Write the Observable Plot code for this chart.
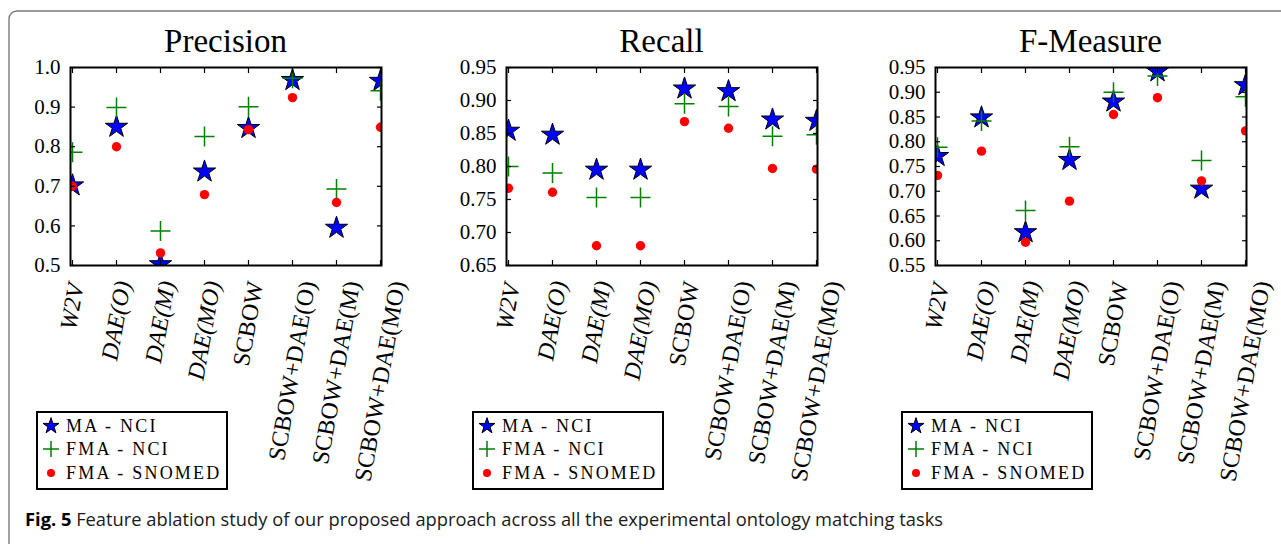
<!DOCTYPE html>
<html><head><meta charset="utf-8">
<script src="https://cdn.jsdelivr.net/npm/d3@7"></script>
<script src="https://cdn.jsdelivr.net/npm/@observablehq/plot@0.6"></script>
<style>
body{margin:0;background:#fff;}
#page{position:relative;width:1281px;height:544px;overflow:hidden;background:#fff;}
.panel{position:absolute;}
#overlay{position:absolute;left:0;top:0;}
</style></head><body><div id="page"></div>
<script>
// ---------- data ----------
const categories = ["W2V","DAE(O)","DAE(M)","DAE(MO)","SCBOW","SCBOW+DAE(O)","SCBOW+DAE(M)","SCBOW+DAE(MO)"];
const italicLabels = ["W2V","DAE(O)","DAE(M)","DAE(MO)"];
const seriesNames = ["MA - NCI","FMA - NCI","FMA - SNOMED"];
const panelTitles = ["Precision","Recall","F-Measure"];

const precisionMA     = [0.702, 0.850, 0.503, 0.737, 0.847, 0.968, 0.595, 0.966];
const precisionFMA    = [0.786, 0.899, 0.587, 0.826, 0.901, 0.973, 0.693, 0.941];
const precisionSNOMED = [0.700, 0.800, 0.532, 0.679, 0.843, 0.924, 0.659, 0.849];

const recallMA     = [0.854, 0.848, 0.795, 0.795, 0.918, 0.914, 0.871, 0.869];
const recallFMA    = [0.800, 0.790, 0.753, 0.753, 0.895, 0.891, 0.846, 0.848];
const recallSNOMED = [0.767, 0.761, 0.680, 0.680, 0.868, 0.858, 0.797, 0.796];

const fmeasureMA     = [0.771, 0.849, 0.617, 0.763, 0.881, 0.942, 0.705, 0.914];
const fmeasureFMA    = [0.789, 0.842, 0.661, 0.790, 0.900, 0.933, 0.762, 0.891];
const fmeasureSNOMED = [0.732, 0.781, 0.597, 0.680, 0.855, 0.889, 0.721, 0.822];

const precisionTicks = [0.5, 0.6, 0.7, 0.8, 0.9, 1.0];
const recallTicks    = [0.65, 0.70, 0.75, 0.80, 0.85, 0.90, 0.95];
const fmeasureTicks  = [0.55, 0.60, 0.65, 0.70, 0.75, 0.80, 0.85, 0.90, 0.95];

const captionBold = "Fig. 5";
const captionText = " Feature ablation study of our proposed approach across all the experimental ontology matching tasks";

// ---------- layout ----------
const W = 311, H = 198, mL = 60, mR = 15, mT = 10, mB = 240;
const frameTop = 67;
const panels = [
  {title: panelTitles[0], left: 70,  ma: precisionMA, fma: precisionFMA, sn: precisionSNOMED, ticks: precisionTicks, fmt: ".1f"},
  {title: panelTitles[1], left: 506, ma: recallMA,    fma: recallFMA,    sn: recallSNOMED,    ticks: recallTicks,    fmt: ".2f"},
  {title: panelTitles[2], left: 935, ma: fmeasureMA,  fma: fmeasureFMA,  sn: fmeasureSNOMED,  ticks: fmeasureTicks,  fmt: ".2f"}
];
const serif = "Liberation Serif";
const blue = "#0000ff", green = "#008000", red = "#ff0000";

const plusSymbol = {draw(ctx, size){ const r = Math.sqrt(size/Math.PI); ctx.moveTo(-r,0); ctx.lineTo(r,0); ctx.moveTo(0,-r); ctx.lineTo(0,r); }};
const rows = vals => categories.map((c,i) => ({cat: c, v: vals[i]}));

const page = document.getElementById("page");
const overlay = d3.select(page).append("svg").attr("id","overlay").attr("width",1281).attr("height",544);
overlay.append("rect").attr("x",9).attr("y",11).attr("width",1400).attr("height",700).attr("rx",8)
  .attr("fill","none").attr("stroke","#7a7a7a").attr("stroke-width",1.4);

panels.forEach(p => {
  const div = document.createElement("div");
  div.className = "panel";
  div.style.left = (p.left - mL) + "px";
  div.style.top = (frameTop - mT) + "px";
  div.style.width = (mL + W + mR) + "px";
  page.appendChild(div);

  const chart = Plot.plot({
    width: mL + W + mR, height: mT + H + mB,
    marginLeft: mL, marginRight: mR, marginTop: mT, marginBottom: mB,
    style: {fontFamily: serif, fontSize: "21px", color: "black", background: "transparent", overflow: "visible"},
    x: {type: "point", domain: categories, padding: 0, label: null},
    y: {domain: [p.ticks[0], p.ticks[p.ticks.length-1]], label: null},
    marks: [
      Plot.dot(rows(p.ma),  {x: "cat", y: "v", symbol: "star", r: 7, fill: blue, stroke: "black", strokeWidth: 1, clip: true}),
      Plot.dot(rows(p.fma), {x: "cat", y: "v", symbol: plusSymbol, r: 10, fill: "none", stroke: green, strokeWidth: 1.5, clip: true}),
      Plot.dot(rows(p.sn),  {x: "cat", y: "v", r: 4.7, fill: red, stroke: "none", clip: true}),
      Plot.axisY({anchor: "left", ticks: p.ticks, tickSize: 0, tickPadding: 10, tickFormat: d3.format(p.fmt), fontSize: 21, fontFamily: serif, label: null}),
      Plot.axisY({anchor: "left", ticks: p.ticks, tickSize: -5, tickFormat: () => "", label: null, strokeWidth: 1.2}),
      Plot.axisY({anchor: "right", ticks: p.ticks, tickSize: -5, tickFormat: () => "", label: null, strokeWidth: 1.2}),
      Plot.axisX({anchor: "bottom", tickSize: -5, tickFormat: () => "", label: null, strokeWidth: 1.2}),
      Plot.axisX({anchor: "top", tickSize: -5, tickFormat: () => "", label: null, strokeWidth: 1.2}),
      Plot.axisX({anchor: "bottom", tickSize: 0, tickPadding: 14, tickRotate: -80, fontSize: 24, fontFamily: serif, label: null}),
      Plot.frame({stroke: "black", strokeWidth: 2})
    ]
  });
  const xs = chart.scale("x");
  // use a copy of Plot's SVG so the serif face set on its labels is kept
  const svg = chart.cloneNode(true);
  div.appendChild(svg);

  const sr = svg.getBoundingClientRect();
  d3.select(svg).selectAll("text").each(function(){
    this.setAttribute("font-family", serif);
    this.setAttribute("font-variant", "normal");
    const t = this.textContent;
    if (categories.indexOf(t) < 0) return;
    if (italicLabels.includes(t)) this.setAttribute("font-style", "italic");
    // matplotlib-style placement: bbox centred on tick, top just under the axis
    const b = this.getBoundingClientRect();
    const dx = xs.apply(t) - ((b.left + b.right)/2 - sr.left);
    const dy = (mT + H + 14) - (b.top - sr.top);
    this.setAttribute("transform", `translate(${dx},${dy}) ${this.getAttribute("transform") || ""}`);
  });

  overlay.append("text").attr("x", p.left + W/2).attr("y", 52).attr("text-anchor","middle")
    .attr("font-family", serif).attr("font-size", 33).attr("fill","black").text(p.title);

  const lx = p.left - 33, ly = 412;
  const g = overlay.append("g");
  g.append("rect").attr("x", lx).attr("y", ly).attr("width", 190).attr("height", 77)
    .attr("fill","white").attr("stroke","black").attr("stroke-width",2);
  const rowY = [ly+14, ly+37, ly+61];
  const mx = lx + 14;
  g.append("path").attr("d", d3.symbol(d3.symbolStar, 79)()).attr("transform", `translate(${mx},${rowY[0]})`)
    .attr("fill", blue).attr("stroke","black").attr("stroke-width",1);
  g.append("path").attr("d", `M${mx-8},${rowY[1]}H${mx+8}M${mx},${rowY[1]-8}V${rowY[1]+8}`)
    .attr("stroke", green).attr("stroke-width",1.5).attr("fill","none");
  g.append("circle").attr("cx", mx).attr("cy", rowY[2]).attr("r", 4).attr("fill", red);
  seriesNames.forEach((s, k) => {
    g.append("text").attr("x", lx + 29).attr("y", rowY[k] + 6).attr("font-family", serif)
      .attr("font-size", 18).attr("letter-spacing", "2.2px").attr("fill","black").text(s);
  });
});

const cap = overlay.append("text").attr("x", 25).attr("y", 526).attr("font-family","Open Sans")
  .attr("font-size", 17.5).attr("fill","#1a1a1a").attr("textLength", 918).attr("lengthAdjust","spacingAndGlyphs");
cap.append("tspan").attr("font-weight", 700).attr("fill","black").text(captionBold);
cap.append("tspan").text(captionText);
</script>
</body></html>
